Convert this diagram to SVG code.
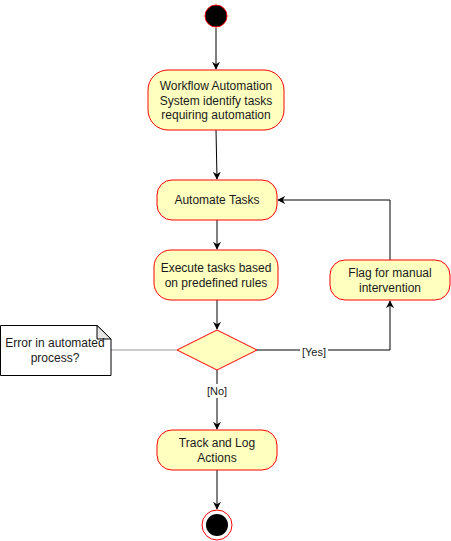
<svg xmlns="http://www.w3.org/2000/svg" width="451" height="541" viewBox="0 0 451 541">
<defs>
<marker id="arr" viewBox="0 0 10 10" refX="9" refY="5" markerWidth="8" markerHeight="8" orient="auto" markerUnits="userSpaceOnUse">
<path d="M0,0 L10,5 L0,10 L3,5 Z" fill="#000"/>
</marker>
</defs>
<style>
.act{fill:#ffffc0;stroke:#ff0000;stroke-width:1}
.t{font-family:"Liberation Sans",Arial,sans-serif;font-size:12px;fill:#1a1a1a;text-anchor:middle}
.lbl{font-family:"Liberation Sans",Arial,sans-serif;font-size:11px;fill:#1a1a1a;text-anchor:middle}
.c{fill:none;stroke:#000;stroke-width:1}
</style>
<rect width="451" height="541" fill="#fff"/>
<g id="connectors">
<path class="c" d="M216,28 L216,69" marker-end="url(#arr)"/>
<path class="c" d="M216,130 L217,179" marker-end="url(#arr)"/>
<path class="c" d="M217,220 L217,249" marker-end="url(#arr)"/>
<path class="c" d="M217,300 L217,329" marker-end="url(#arr)"/>
<path class="c" d="M390,260 L390,200 L278,200" marker-end="url(#arr)"/>
<path class="c" d="M257,350 L390,350 L390,301" marker-end="url(#arr)"/>
<path class="c" d="M217,370 L217,429" marker-end="url(#arr)"/>
<path class="c" d="M217,470 L217,509" marker-end="url(#arr)"/>
<path d="M111,350 L177,350" stroke="#999" stroke-width="1" fill="none"/>
<rect x="300" y="345" width="28" height="14" fill="#fff"/>
<text class="lbl" x="314" y="356">[Yes]</text>
<rect x="205" y="384" width="24" height="14" fill="#fff"/>
<text class="lbl" x="217" y="395">[No]</text>
</g>
<g id="start"><circle cx="216" cy="16" r="11" fill="#000" stroke="#ff0000"/></g>
<g id="identify">
<rect class="act" x="148" y="70" width="136" height="60" rx="20"/>
<text class="t" x="216" y="90">Workflow Automation</text>
<text class="t" x="216" y="104.5">System identify tasks</text>
<text class="t" x="216" y="119">requiring automation</text>
</g>
<g id="automate">
<rect class="act" x="157" y="180" width="120" height="40" rx="15"/>
<text class="t" x="217" y="204">Automate Tasks</text>
</g>
<g id="execute">
<rect class="act" x="154" y="250" width="124" height="50" rx="17"/>
<text class="t" x="216" y="272">Execute tasks based</text>
<text class="t" x="216" y="287">on predefined rules</text>
</g>
<g id="flag">
<rect class="act" x="330" y="260" width="120" height="40" rx="15"/>
<text class="t" x="390" y="277">Flag for manual</text>
<text class="t" x="390" y="292">intervention</text>
</g>
<g id="decision">
<path class="act" d="M217,330 L257,350 L217,370 L177,350 Z"/>
</g>
<g id="note">
<path d="M0.5,325.5 L97,325.5 L111,339 L111,375.5 L0.5,375.5 Z" fill="#fff" stroke="#000"/>
<path d="M97,325.5 L97,339 L111,339 Z" fill="#e6e6e6" stroke="#000"/>
<text class="t" x="55" y="347">Error in automated</text>
<text class="t" x="55" y="362">process?</text>
</g>
<g id="track">
<rect class="act" x="157" y="430" width="120" height="40" rx="15"/>
<text class="t" x="217" y="447">Track and Log</text>
<text class="t" x="217" y="462">Actions</text>
</g>
<g id="end">
<circle cx="217" cy="525" r="15" fill="#fff" stroke="#ff0000"/>
<circle cx="217" cy="525" r="11" fill="#000"/>
</g>
</svg>
